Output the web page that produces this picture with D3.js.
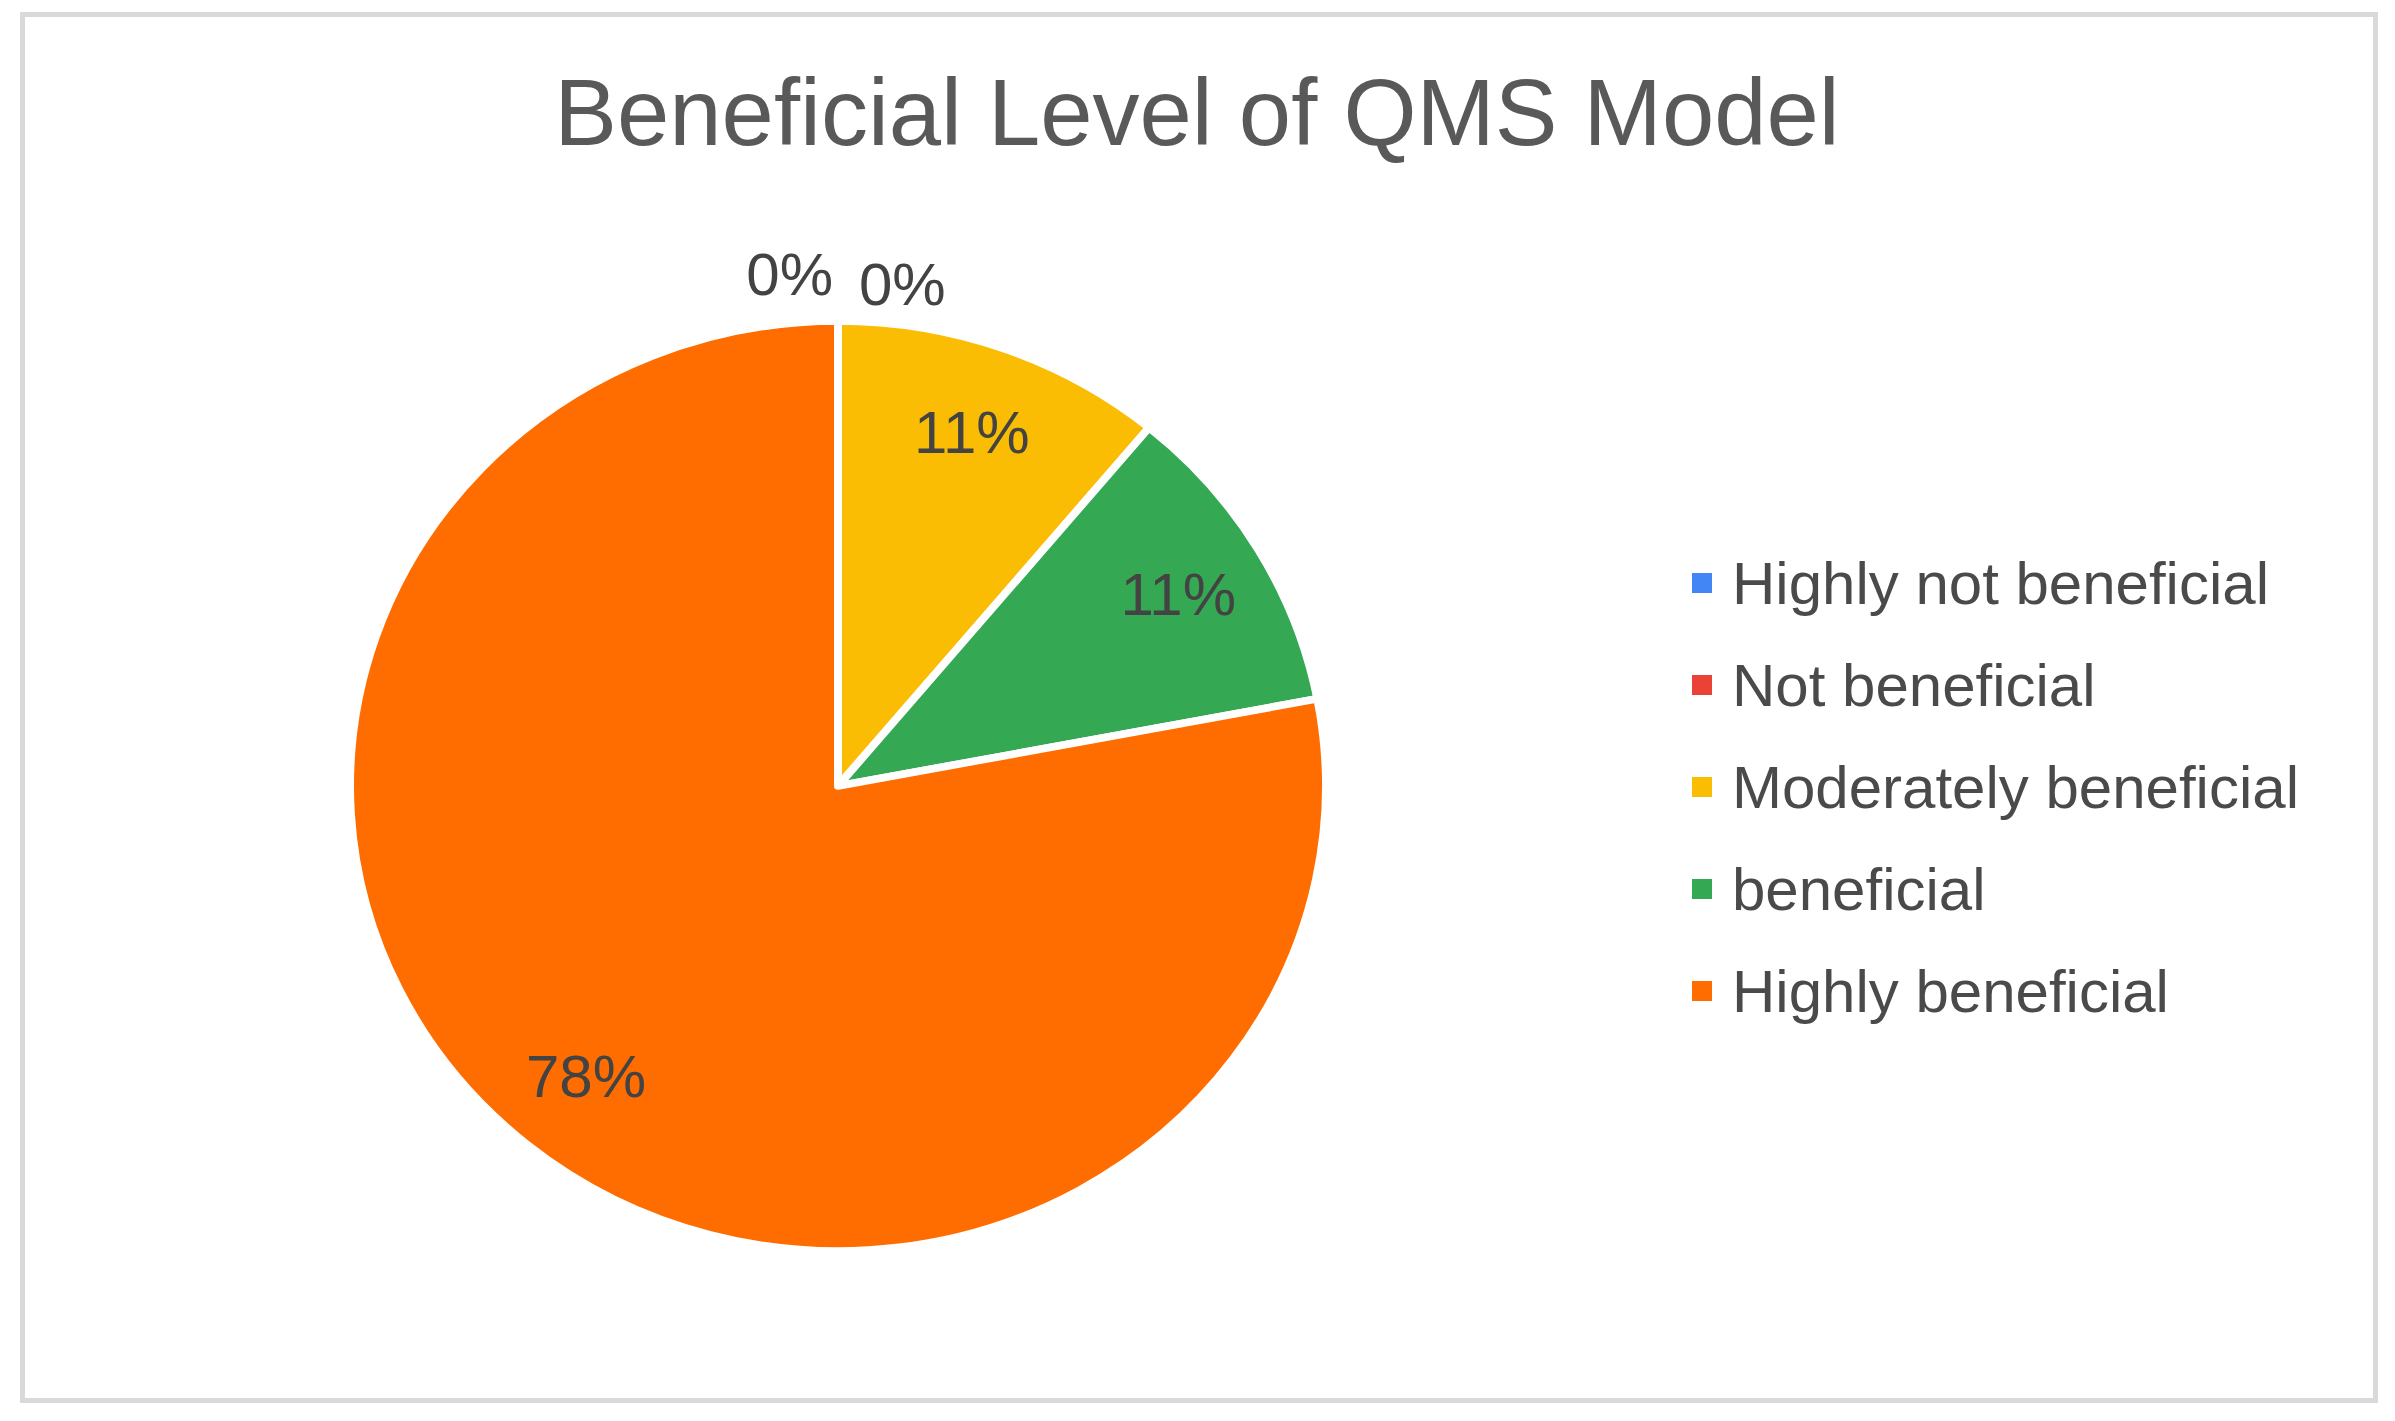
<!DOCTYPE html>
<html>
<head>
<meta charset="utf-8">
<script src="https://cdn.jsdelivr.net/npm/d3@7/dist/d3.min.js"></script>
<style>
  body { margin: 0; background: #fff; }
  svg { display: block; font-family: "Liberation Sans", Arial, sans-serif; }
</style>
</head>
<body>
<svg id="chart"></svg>
<script>
const title = "Beneficial Level of QMS Model";
const categories = ["Highly not beneficial", "Not beneficial", "Moderately beneficial", "beneficial", "Highly beneficial"];
const values = [0, 0, 11, 11, 78];
const colors = ["#4285F4", "#EA4335", "#FBBC04", "#34A853", "#FF6D01"];

const w = 2395;
const h = 1421;
const cx = 838;
const cy = 786;
const r = 488;
const squash = 0.953; // picture is slightly flattened vertically

const svg = d3.select("#chart")
  .attr("width", w)
  .attr("height", h);

// outer frame
svg.append("rect")
  .attr("x", 22.5)
  .attr("y", 14.5)
  .attr("width", 2353)
  .attr("height", 1386)
  .attr("fill", "#fff")
  .attr("stroke", "#d9d9d9")
  .attr("stroke-width", 5);

svg.append("text")
  .attr("x", 1197)
  .attr("y", 145)
  .attr("text-anchor", "middle")
  .attr("font-size", 94)
  .attr("fill", "#595959")
  .text(title);

const data = categories.map((c, i) => ({ name: c, value: values[i], color: colors[i] }));

const pie = d3.pie().sort(null).value(d => d.value);
const arcs = pie(data);

const arc = d3.arc().innerRadius(0).outerRadius(r);
const labelArc = d3.arc().innerRadius(r * 0.81).outerRadius(r * 0.81);

const g = svg.append("g")
  .attr("transform", `translate(${cx},${cy}) scale(1,${squash})`);

g.selectAll("path")
  .data(arcs.filter(d => d.value > 0))
  .enter()
  .append("path")
  .attr("d", arc)
  .attr("fill", d => d.data.color)
  .attr("stroke", "#fff")
  .attr("stroke-width", 8)
  .attr("stroke-linejoin", "round");

const fmt = d3.format(".0%");
const total = d3.sum(values);

// labels inside the slices
svg.selectAll("text.inlabel")
  .data(arcs.filter(d => d.value > 0))
  .enter()
  .append("text")
  .attr("class", "inlabel")
  .attr("x", d => cx + labelArc.centroid(d)[0])
  .attr("y", d => cy + labelArc.centroid(d)[1] * squash)
  .attr("dy", "0.35em")
  .attr("text-anchor", "middle")
  .attr("font-size", 60)
  .attr("fill", "#434343")
  .text(d => fmt(d.value / total));

// empty slices get their labels just outside the top of the pie
const zeros = arcs.filter(d => d.value === 0);
svg.selectAll("text.outlabel")
  .data(zeros)
  .enter()
  .append("text")
  .attr("class", "outlabel")
  .attr("x", (d, i) => cx + Math.sin(d.startAngle) * r + (i % 2 === 0 ? -5 : 21))
  .attr("y", (d, i) => cy - Math.cos(d.startAngle) * r * squash + (i % 2 === 0 ? -26 : -16))
  .attr("text-anchor", (d, i) => i % 2 === 0 ? "end" : "start")
  .attr("font-size", 60)
  .attr("fill", "#434343")
  .text(d => fmt(d.value / total));

// legend
const ly = d3.scalePoint()
  .domain(categories)
  .range([583, 991]);

const legend = svg.append("g");
const item = legend.selectAll("g")
  .data(data)
  .enter()
  .append("g")
  .attr("transform", d => `translate(1692,${ly(d.name)})`);

item.append("rect")
  .attr("x", 0)
  .attr("y", -10)
  .attr("width", 20)
  .attr("height", 20)
  .attr("fill", d => d.color);

item.append("text")
  .attr("x", 40)
  .attr("y", 0)
  .attr("dy", "0.35em")
  .attr("font-size", 60)
  .attr("fill", "#4a4a4a")
  .text(d => d.name);
</script>
</body>
</html>
